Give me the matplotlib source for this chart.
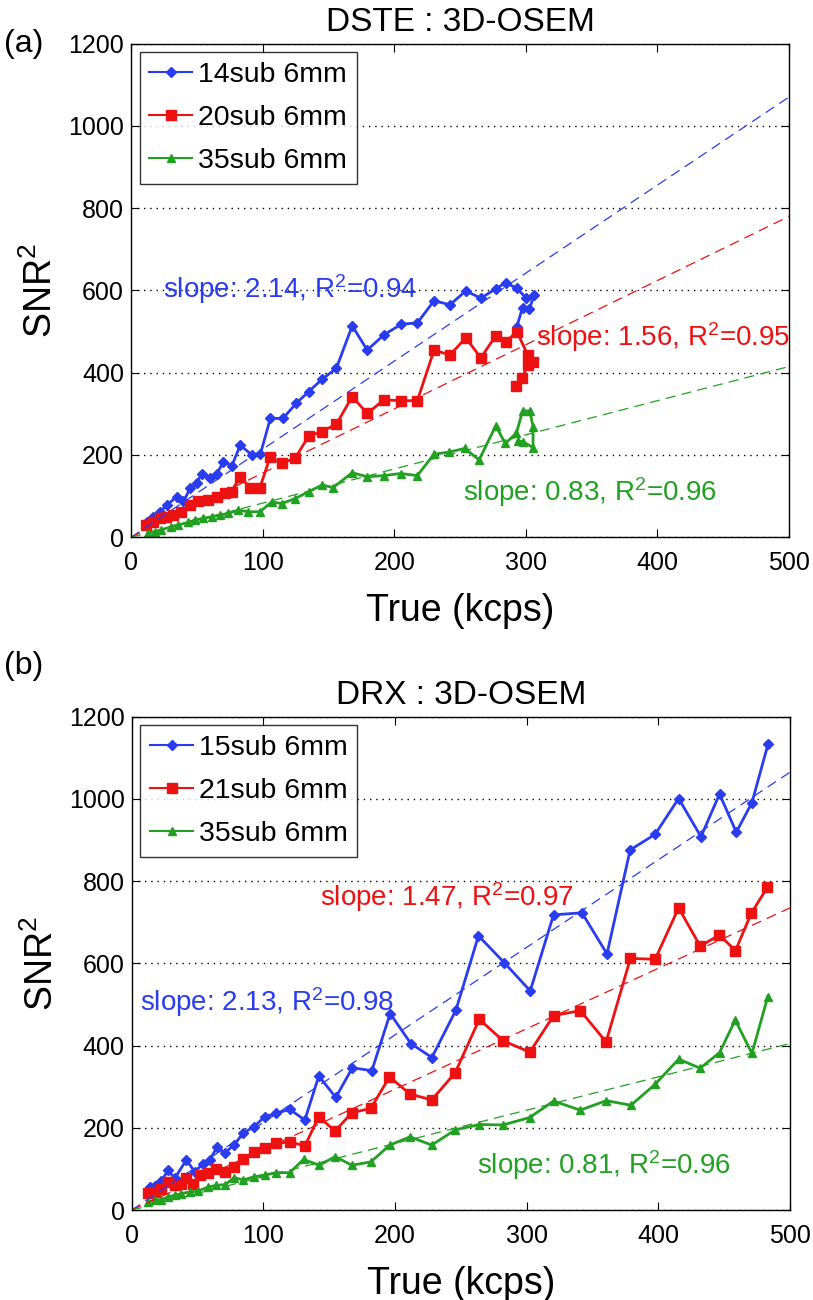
import numpy as np
import matplotlib
matplotlib.use("Agg")
import matplotlib.pyplot as plt

plt.rcParams['font.family'] = ['Liberation Sans', 'DejaVu Sans']
plt.rcParams['mathtext.fontset'] = 'custom'
plt.rcParams['mathtext.rm'] = 'Liberation Sans'
plt.rcParams['mathtext.it'] = 'Liberation Sans:italic'

# panel (a) DSTE
a_blue_x = [11.9, 17, 22.1, 27.2, 34.8, 39.9, 44.9, 50, 53.8, 60.2, 65.3, 70.3, 76.7, 83, 91.9, 98.3,
            105.9, 115.5, 125.7, 135, 145.2, 156.1, 168.1, 179.5, 192.2, 205.4, 217.6, 230.3, 242.4,
            254.4, 265.8, 277.2, 284.8, 293.2, 300.1, 306.4, 302.6, 297.5, 293.2]
a_blue_y = [38, 50, 62, 78, 99, 87, 119, 131, 155, 143, 155, 184, 174, 224, 200, 202,
            289, 289, 326, 354, 384, 411, 514, 455, 492, 518, 521, 575, 565,
            599, 581, 604, 619, 605, 582, 589, 554, 558, 512]
a_red_x = [11.7, 16.8, 21.8, 26.9, 32, 38.3, 44.7, 51, 58.6, 65, 71.3, 76.4, 82.8, 90.4, 98,
           105.6, 114.5, 124.7, 135, 145.2, 156.1, 168.1, 179.5, 192.2, 205.4, 217.6, 230.3,
           242.4, 254.4, 265.8, 277.2, 284.8, 293.2, 301.5, 305.5, 302, 297, 292.5]
a_red_y = [30, 38, 46, 50, 54, 62, 78, 87, 91, 99, 107, 111, 147, 121, 121,
           194, 180, 192, 246, 257, 275, 342, 301, 334, 332, 332, 455,
           443, 485, 436, 490, 475, 500, 443, 427, 419, 388, 368]
a_green_x = [12.9, 18, 23.1, 30.7, 35.8, 43.4, 48.5, 54.8, 61.2, 67.5, 73.9, 81.5, 89.1, 98,
             106.9, 114.5, 124.7, 135, 145.2, 153.6, 168.1, 179.5, 192.2, 204.8, 217.6, 230.2,
             241.7, 253.6, 264.5, 277.2, 284.4, 292.8, 297.6, 303, 305.5, 305.5, 298, 294]
a_green_y = [10, 14, 18, 26, 30, 36, 42, 46, 50, 54, 58, 66, 62, 62,
             86, 82, 94, 111, 127, 121, 157, 147, 150, 155, 150, 202,
             207, 216, 188, 271, 228, 253, 307, 307, 269, 218, 232, 234]
a_labels = ['14sub 6mm', '20sub 6mm', '35sub 6mm']
a_slopes = [2.14, 1.56, 0.83]
a_r2 = [0.94, 0.95, 0.96]

# panel (b) DRX
b_blue_x = [13.7, 17.5, 22.5, 27.6, 32.7, 41.5, 47.9, 54.2, 59.3, 65, 70.6, 77.7, 84.6, 93, 101,
            109.9, 120, 131.5, 142.1, 155, 167.6, 182.4, 196.3, 212, 228, 246.2, 263.4, 282.9,
            302.7, 320.4, 342, 361, 378.6, 397.6, 415.4, 432.4, 446.5, 459.2, 471.1, 483.3]
b_blue_y = [57, 58, 70, 97, 77, 122, 93, 113, 122, 154, 139, 158, 187, 203, 227,
            235, 245, 219, 326, 274, 346, 339, 478, 405, 371, 486, 667, 602,
            533, 718, 723, 623, 876, 914, 1001, 908, 1012, 919, 991, 1133]
b_red_x = [12.4, 17.5, 22.5, 27.6, 32.7, 37.8, 41.5, 46.6, 51.7, 58, 64.3, 71.2, 77.8, 84.6, 93,
           101, 109.9, 120, 131.5, 142.1, 154.5, 167.2, 181.6, 195.8, 211.4, 227.9, 245.7, 264,
           282, 302.4, 320.4, 340.8, 360.3, 378.8, 397.6, 415.4, 431.8, 446.4, 458.6, 470.6, 482.8]
b_red_y = [41, 44, 52, 68, 60, 63, 77, 63, 85, 89, 101, 93, 105, 123, 142,
           150, 162, 166, 156, 227, 192, 237, 247, 324, 282, 268, 334, 464,
           412, 384, 473, 485, 409, 612, 610, 735, 642, 669, 631, 722, 785]
b_green_x = [12.4, 17.5, 22.5, 27.6, 32.7, 37.8, 44.1, 50.4, 58, 64.3, 71.2, 77.8, 84.6, 93, 101,
             109.9, 120, 130.5, 142.5, 154.5, 167.2, 181.6, 196, 211.4, 227.9, 245.7, 264, 282,
             302.2, 320.4, 340.7, 360.4, 379.2, 397.6, 415.4, 431.8, 446.5, 458.4, 471.1, 483.1]
b_green_y = [20, 24, 25, 32, 36, 40, 44, 46, 56, 60, 62, 79, 73, 81, 85,
             91, 91, 123, 109, 130, 109, 117, 158, 178, 158, 195, 208, 207,
             225, 265, 243, 266, 255, 306, 367, 345, 383, 462, 381, 519]
b_labels = ['15sub 6mm', '21sub 6mm', '35sub 6mm']
b_slopes = [2.13, 1.47, 0.81]
b_r2 = [0.98, 0.97, 0.96]

colors = ['#2a3cf0', '#ee1111', '#22a022']
markers = ['D', 's', '^']
msizes = [5, 7.5, 6]

fig = plt.figure(figsize=(8.13, 13), dpi=100)
ax_a = fig.add_axes([0.1611, 0.5867, 0.8094, 0.3798])
ax_b = fig.add_axes([0.162, 0.0692, 0.8097, 0.3795])


def draw_panel(ax, xs, ys, labels, slopes, r2s, title, notes):
    for i in range(3):
        ax.plot(xs[i], ys[i], color=colors[i], marker=markers[i], ms=msizes[i],
                lw=2, label=labels[i])
    fx = np.array([0, 500])
    for i in range(3):
        ax.plot(fx, slopes[i] * fx, color=colors[i], lw=0.9, ls=(0, (8, 5)))
    for i in range(3):
        tx, ty = notes[i]
        ax.text(tx, ty, 'slope: %.2f, R$^2$=%.2f' % (slopes[i], r2s[i]), color=colors[i],
                fontsize=20, ha='left', va='center')
    ax.set_xlim(0, 500)
    ax.set_ylim(0, 1200)
    ax.set_xticks(range(0, 501, 100))
    ax.set_yticks(range(0, 1201, 200))
    ax.tick_params(direction='in', top=True, right=True, length=6, labelsize=18)
    ax.tick_params(axis='x', pad=10)
    ax.tick_params(axis='y', pad=5)
    ax.yaxis.grid(True, color='black', ls=(0, (1, 3.5)), lw=1)
    for s in ax.spines.values():
        s.set_linewidth(1)
    ax.set_xlabel('True (kcps)', fontsize=27, labelpad=13)
    ax.set_ylabel('SNR$^2$', fontsize=27, labelpad=6)
    ax.set_title(title, fontsize=24, pad=9)
    leg = ax.legend(loc='upper left', fontsize=20.5, frameon=True, fancybox=False,
                    edgecolor='black', handlelength=1.5, handletextpad=0.2,
                    borderaxespad=0.3, labelspacing=0.6, borderpad=0.35)
    leg.get_frame().set_linewidth(1)
    for h in leg.get_lines():
        h.set_linewidth(1.5)


draw_panel(ax_a, [a_blue_x, a_red_x, a_green_x], [a_blue_y, a_red_y, a_green_y],
           a_labels, a_slopes, a_r2, 'DSTE : 3D-OSEM',
           [(24, 603), (308, 487), (252, 110)])
draw_panel(ax_b, [b_blue_x, b_red_x, b_green_x], [b_blue_y, b_red_y, b_green_y],
           b_labels, b_slopes, b_r2, 'DRX : 3D-OSEM',
           [(6, 505), (143, 762), (262, 110)])

fig.text(0.005, 0.966, '(a)', fontsize=23, va='center')
fig.text(0.005, 0.488, '(b)', fontsize=23, va='center')

fig.savefig('out.png', dpi=100)
